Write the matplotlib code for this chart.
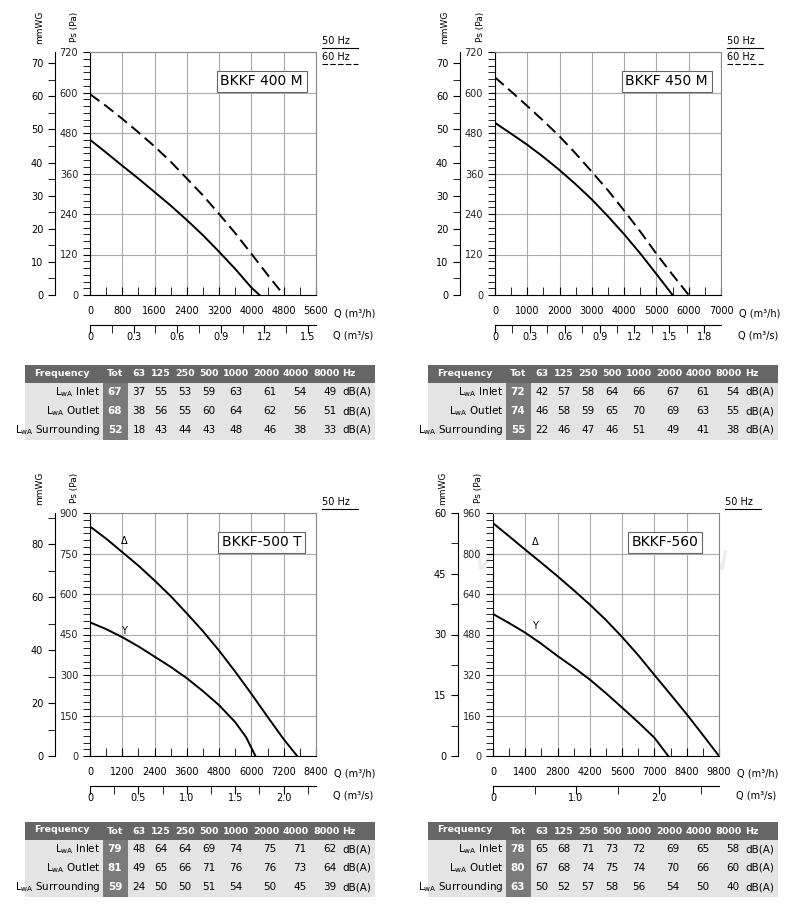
import matplotlib.pyplot as plt
from matplotlib.patches import Rectangle
from matplotlib.ticker import MultipleLocator, FuncFormatter

W, H = 800, 918
fig = plt.figure(figsize=(8, 9.18), dpi=100)

# ---- data ----
freqs = ["63", "125", "250", "500", "1000", "2000", "4000", "8000"]
row_names = ["Inlet", "Outlet", "Surrounding"]

m400_q = [0, 400, 800, 1200, 1600, 2000, 2400, 2800, 3200, 3600, 4000, 4200]
m400_p = [460, 422, 383, 345, 305, 265, 222, 177, 128, 77, 22, 0]
m400_q60 = [0, 400, 800, 1200, 1600, 2000, 2400, 2800, 3200, 3600, 4000, 4400, 4800]
m400_p60 = [595, 560, 522, 482, 440, 395, 345, 295, 240, 183, 122, 60, 0]
m400_tot = [67, 68, 52]
m400_lw = [[37, 55, 53, 59, 63, 61, 54, 49],
           [38, 56, 55, 60, 64, 62, 56, 51],
           [18, 43, 44, 43, 48, 46, 38, 33]]

m450_q = [0, 500, 1000, 1500, 2000, 2500, 3000, 3500, 4000, 4500, 5000, 5500]
m450_p = [510, 478, 445, 409, 370, 328, 283, 233, 180, 123, 62, 0]
m450_q60 = [0, 500, 1000, 1500, 2000, 2500, 3000, 3500, 4000, 4500, 5000, 5500, 6000]
m450_p60 = [645, 603, 560, 516, 470, 419, 365, 310, 250, 188, 122, 60, 0]
m450_tot = [72, 74, 55]
m450_lw = [[42, 57, 58, 64, 66, 67, 61, 54],
           [46, 58, 59, 65, 70, 69, 63, 55],
           [22, 46, 47, 46, 51, 49, 41, 38]]

t500_qd = [0, 600, 1200, 1800, 2400, 3000, 3600, 4200, 4800, 5400, 6000, 6600, 7200, 7700]
t500_pd = [850, 805, 755, 705, 650, 592, 528, 462, 390, 312, 230, 145, 62, 0]
t500_qy = [0, 600, 1200, 1800, 2400, 3000, 3600, 4200, 4800, 5400, 5800, 6150]
t500_py = [495, 470, 440, 406, 368, 330, 288, 240, 188, 125, 70, 0]
t500_tot = [79, 81, 59]
t500_lw = [[48, 64, 64, 69, 74, 75, 71, 62],
           [49, 65, 66, 71, 76, 76, 73, 64],
           [24, 50, 50, 51, 54, 50, 45, 39]]

k560_qd = [0, 700, 1400, 2100, 2800, 3500, 4200, 4900, 5600, 6300, 7000, 7700, 8400, 9100, 9800]
k560_pd = [920, 868, 815, 763, 710, 655, 598, 537, 470, 398, 320, 243, 165, 83, 0]
k560_qy = [0, 700, 1400, 2100, 2800, 3500, 4200, 4900, 5600, 6300, 7000, 7600]
k560_py = [561, 525, 487, 443, 395, 350, 302, 248, 191, 133, 72, 0]
k560_tot = [78, 80, 63]
k560_lw = [[65, 68, 71, 73, 72, 69, 65, 58],
           [67, 68, 74, 75, 74, 70, 66, 60],
           [50, 52, 57, 58, 56, 54, 50, 40]]


def ax_px(x0, y0, x1, y1):
    return fig.add_axes([x0 / W, 1 - y1 / H, (x1 - x0) / W, (y1 - y0) / H])


over = ax_px(0, 0, W, H)
over.set_xlim(0, W)
over.set_ylim(H, 0)
over.axis("off")
over.set_zorder(-1)

zero_fmt = FuncFormatter(lambda v, p: "0" if abs(v) < 1e-9 else f"{v:.1f}")


def panel(ox, oy, xmax, xstep, ymax, ystep, mmmax, mmstep, qs_step,
          title, curves, hz60=True, labels=None):
    x0, y0, x1, y1 = ox + 90, oy, ox + 316, oy + 243
    ax = ax_px(x0, y0, x1, y1)
    for q, p, ls in curves:
        if ls == "--":
            ax.plot(q, p, color="black", lw=1.4, ls="--", dashes=(6, 3))
        else:
            ax.plot(q, p, color="black", lw=1.4)
    ax.set_xlim(0, xmax)
    ax.set_ylim(0, ymax)
    ax.xaxis.set_major_locator(MultipleLocator(xstep))
    ax.xaxis.set_minor_locator(MultipleLocator(xstep / 2))
    ax.yaxis.set_major_locator(MultipleLocator(ystep))
    ax.yaxis.set_minor_locator(MultipleLocator(ystep / 6))
    ax.grid(True, which="major", color="#aaaaaa", lw=0.8)
    for s in ["top", "right"]:
        ax.spines[s].set_color("#888888")
    ax.tick_params(axis="x", which="both", direction="in", length=6, labelsize=7, pad=8)
    ax.tick_params(axis="y", which="both", direction="out", length=5, labelsize=7, labelcolor="#222")
    over.text(x1 + 18, y1 + 18, "Q (m³/h)", fontsize=7, va="center")
    if labels:
        for x, y, t in labels:
            ax.text(x, y, t, fontsize=7)
    ax.text(xmax * 0.76, ymax * 0.88, title, fontsize=10, ha="center", va="center",
            bbox=dict(boxstyle="square,pad=0.25", fc="white", ec="#666666", lw=0.8))
    # mmWG axis
    am = ax_px(ox + 55, y0, ox + 56, y1)
    am.set_ylim(0, mmmax)
    am.set_xticks([])
    for s in ["top", "right", "bottom"]:
        am.spines[s].set_visible(False)
    am.yaxis.set_major_locator(MultipleLocator(mmstep))
    am.yaxis.set_minor_locator(MultipleLocator(mmstep / 2))
    am.tick_params(axis="y", which="both", direction="out", length=5, labelsize=7)
    am.set_facecolor("none")
    # m3/s axis
    aq = ax_px(x0, oy + 273, x1, oy + 274)
    aq.set_xlim(0, xmax / 3600)
    aq.set_yticks([])
    for s in ["bottom", "right", "left"]:
        aq.spines[s].set_visible(False)
    aq.xaxis.set_major_locator(MultipleLocator(qs_step))
    aq.xaxis.set_minor_locator(MultipleLocator(qs_step / 2))
    aq.xaxis.set_major_formatter(zero_fmt)
    aq.xaxis.set_ticks_position("top")
    aq.tick_params(axis="x", which="both", direction="in", length=6, labelsize=7, pad=4,
                   labeltop=False, labelbottom=True)
    aq.set_facecolor("none")
    over.text(ox + 333, oy + 283, "Q (m³/s)", fontsize=7, va="center")
    # axis titles
    over.text(ox + 40, oy - 25, "mmWG", fontsize=6.5, rotation=90, ha="center", va="center")
    over.text(ox + 75, oy - 25, "Ps (Pa)", fontsize=6.5, rotation=90, ha="center", va="center")
    # Hz legend
    over.text(ox + 322, oy - 6, "50 Hz", fontsize=7, va="bottom")
    over.plot([ox + 322, ox + 358], [oy - 4, oy - 4], color="black", lw=0.8)
    if hz60:
        over.text(ox + 322, oy + 10, "60 Hz", fontsize=7, va="bottom")
        over.plot([ox + 322, ox + 358], [oy + 12, oy + 12], color="black", lw=0.8, ls=(0, (5, 2)))


def table(ox, oy, tot, lw):
    over.add_patch(Rectangle((ox + 25, oy), 350, 18, fc="#666666", ec="none"))
    over.add_patch(Rectangle((ox + 25, oy + 18), 350, 57, fc="#e4e4e4", ec="none"))
    over.add_patch(Rectangle((ox + 103, oy + 18), 25, 57, fc="#7a7a7a", ec="none"))
    cols = [139, 161, 185, 209, 236, 266, 296, 326]
    kw = dict(fontsize=6.8, va="center", fontweight="bold", color="white")
    over.text(ox + 62, oy + 8, "Frequency", ha="center", **kw)
    over.text(ox + 115, oy + 9, "Tot", ha="center", **kw)
    for c, f in zip(cols, freqs):
        over.text(ox + c, oy + 9, f, ha="center", **kw)
    over.text(ox + 342, oy + 9, "Hz", ha="left", **kw)
    for i, name in enumerate(row_names):
        y = oy + 27 + i * 19
        over.text(ox + 100, y, r"L$_{\mathregular{wA}}$ " + name, fontsize=7.5, ha="right", va="center")
        over.text(ox + 115, y, str(tot[i]), fontsize=7.5, ha="center", va="center",
                  color="white", fontweight="bold")
        for c, v in zip(cols, lw[i]):
            over.text(ox + c + (4 if c > 250 else 0), y, str(v), fontsize=7.5, ha="center", va="center")
        over.text(ox + 342, y, "dB(A)", fontsize=7.5, ha="left", va="center")


panel(0, 52, 5600, 800, 720, 120, 720 / 9.81, 10, 0.3, "BKKF 400 M",
      [(m400_q, m400_p, "-"), (m400_q60, m400_p60, "--")])
panel(405, 52, 7000, 1000, 720, 120, 720 / 9.81, 10, 0.3, "BKKF 450 M",
      [(m450_q, m450_p, "-"), (m450_q60, m450_p60, "--")])
panel(0, 513, 8400, 1200, 900, 150, 900 / 9.81, 20, 0.5, "BKKF-500 T",
      [(t500_qd, t500_pd, "-"), (t500_qy, t500_py, "-")], hz60=False,
      labels=[(1150, 785, "Δ"), (1150, 450, "Y")])
panel(403, 513, 9800, 1400, 960, 160, 60, 15, 1.0, "BKKF-560",
      [(k560_qd, k560_pd, "-"), (k560_qy, k560_py, "-")], hz60=False,
      labels=[(1700, 835, "Δ"), (1700, 500, "Y")])

table(0, 365, m400_tot, m400_lw)
table(403, 365, m450_tot, m450_lw)
table(0, 822, t500_tot, t500_lw)
table(403, 822, k560_tot, k560_lw)

over.text(600, 560, "Ventilatorry.ru", fontsize=26, style="italic", color="#ececec",
          ha="center", va="center", zorder=0)

fig.savefig("out.png", dpi=100)
